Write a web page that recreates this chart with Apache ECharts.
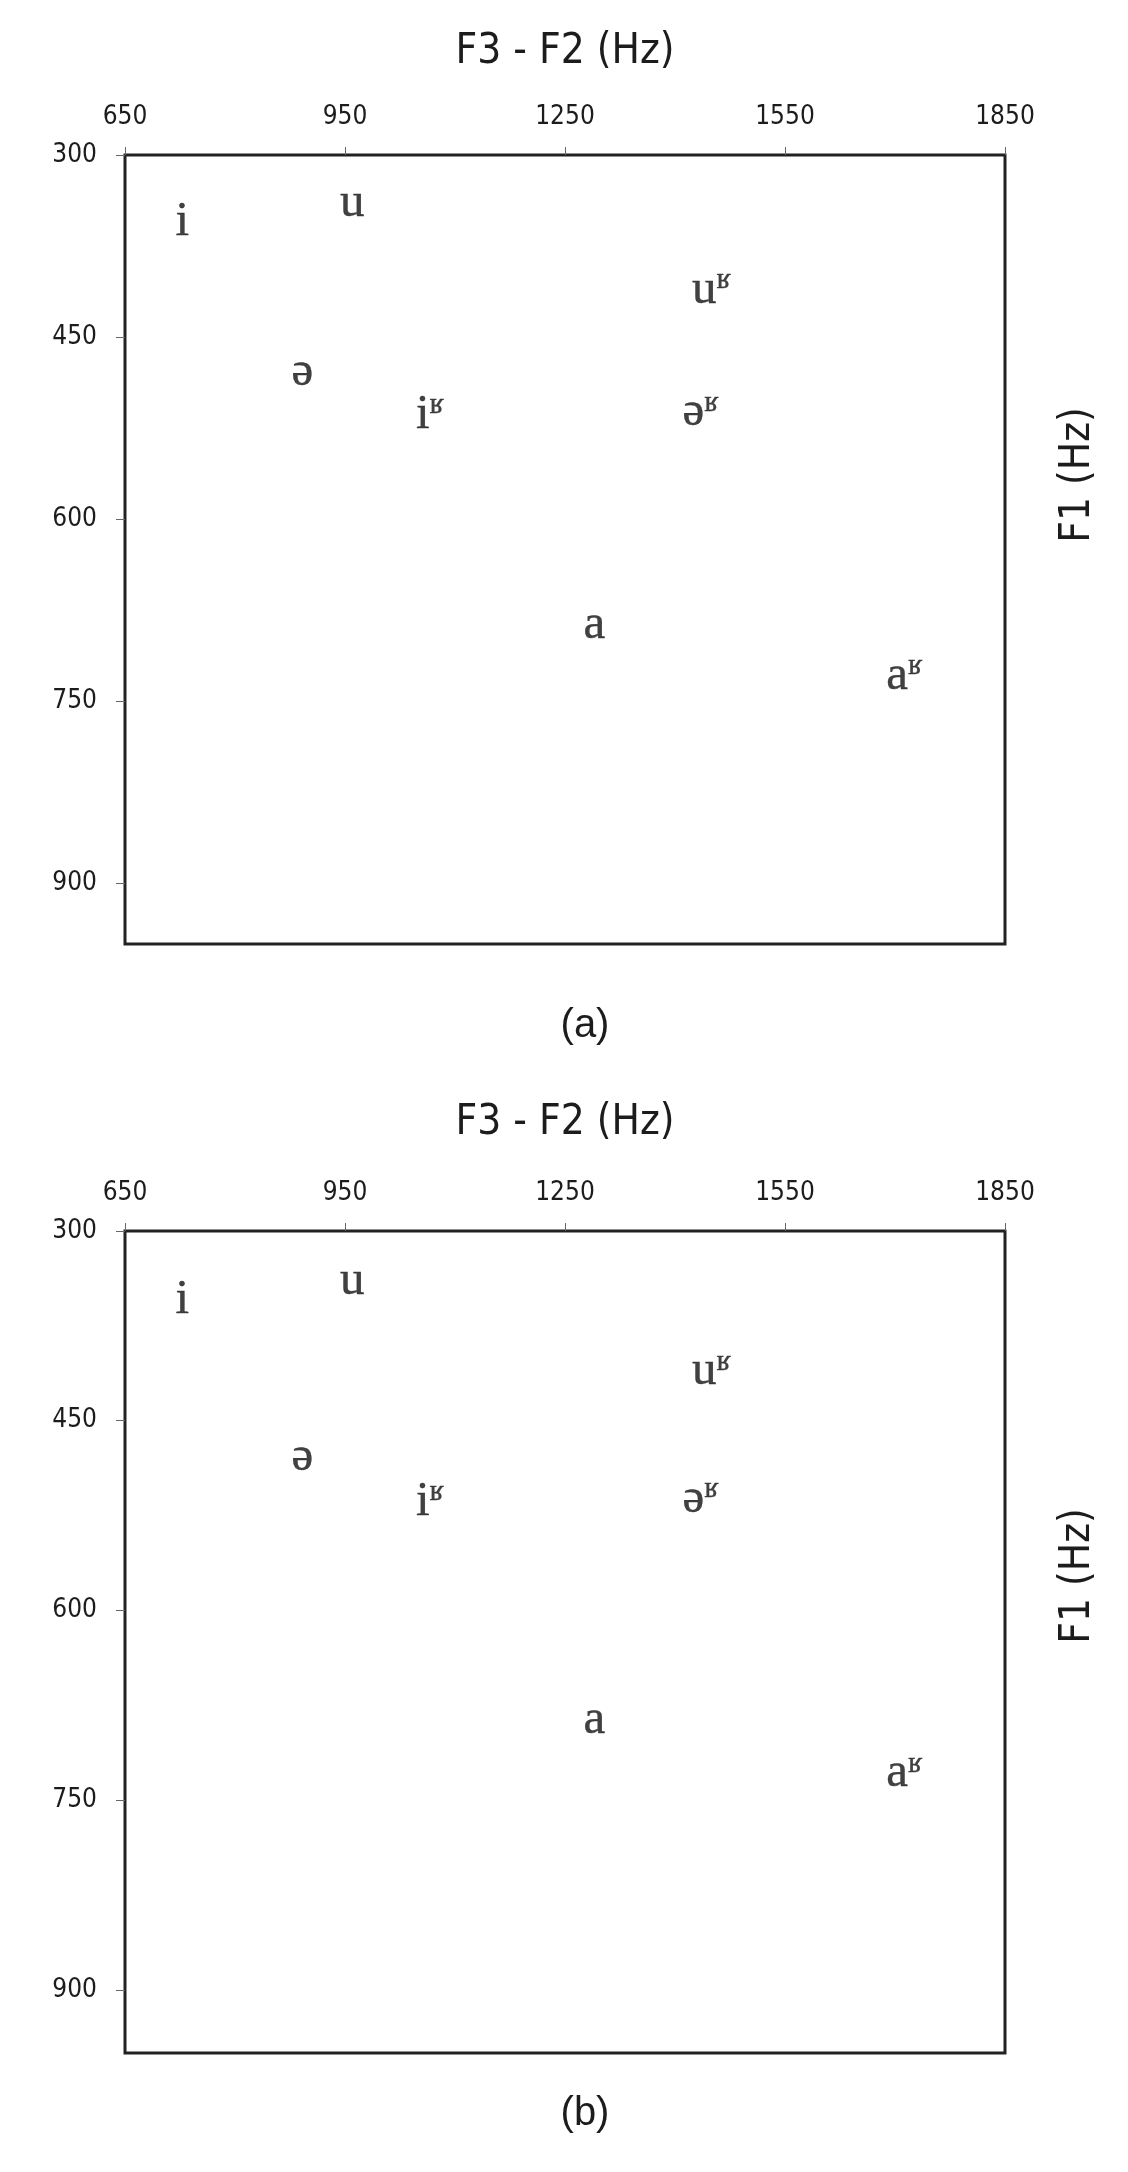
<!DOCTYPE html>
<html>
<head>
<meta charset="utf-8">
<script src="https://cdn.jsdelivr.net/npm/echarts@6/dist/echarts.min.js"></script>
<style>
html,body{margin:0;padding:0;background:#fff;}
#c{width:1128px;height:2172px;}
</style>
</head>
<body>
<div id="c"></div>
<script>
// ---- data ----
const vowelBase = ['i', 'u', 'ə', 'i', 'u', 'ə', 'a', 'a'];
const vowelSup  = ['',  '',  '',  'ʁ', 'ʁ', 'ʁ', '',  'ʁ'];
const f3MinusF2 = [728, 960, 892, 1066, 1450, 1435, 1290, 1713];
const f1Values  = [355, 340, 479, 514, 411, 512, 687, 729];
const xTicks = [650, 950, 1250, 1550, 1850];
const yTicks = [300, 450, 600, 750, 900];
const panelCaptions = ['(a)', '(b)'];
const xAxisTitle = 'F3 - F2 (Hz)';
const yAxisTitle = 'F1 (Hz)';

const textColor = '#1c1c1c';
const sansCond = '"DejaVu Sans Condensed", "DejaVu Sans", sans-serif';
const narrow = '"Liberation Sans Narrow", "Liberation Sans", sans-serif';
const serif = '"Liberation Serif", "DejaVu Serif", serif';

const points = f3MinusF2.map((x, i) => ({ value: [x, f1Values[i]], base: vowelBase[i], sup: vowelSup[i] }));

const grids = [
  { left: 125, top: 155, width: 880, height: 789 },
  { left: 125, top: 1231, width: 880, height: 822 }
];
const titleGap = [103, 108];
const yNameCenter = [475, 1576];
const captionY = [1026, 2114];

const option = {
  animation: false,
  backgroundColor: '#ffffff',
  grid: grids.map(g => Object.assign({ show: true, borderColor: '#222', borderWidth: 3, backgroundColor: 'transparent' }, g)),
  xAxis: grids.map((g, i) => ({
    gridIndex: i,
    type: 'value',
    position: 'top',
    min: 650, max: 1850,
    name: xAxisTitle,
    nameLocation: 'middle',
    nameGap: titleGap[i],
    nameTextStyle: { fontFamily: sansCond, fontSize: 42, color: textColor, verticalAlign: 'middle' },
    axisLine: { show: false },
    axisTick: { show: true, customValues: xTicks, length: 8, inside: false, lineStyle: { color: '#666', width: 1 } },
    axisLabel: { show: true, customValues: xTicks, margin: 25, fontFamily: sansCond, fontSize: 26, color: textColor, formatter: v => String(v) },
    splitLine: { show: false }
  })),
  yAxis: grids.map((g, i) => ({
    gridIndex: i,
    type: 'value',
    inverse: true,
    min: 300, max: 950,
    axisLine: { show: false },
    axisTick: { show: true, customValues: yTicks, length: 9, inside: false, lineStyle: { color: '#666', width: 1 } },
    axisLabel: { show: true, customValues: yTicks, margin: 28, fontFamily: sansCond, fontSize: 26, color: textColor, formatter: v => String(v) },
    splitLine: { show: false }
  })),
  series: grids.map((g, i) => ({
    type: 'scatter',
    xAxisIndex: i,
    yAxisIndex: i,
    symbolSize: 1,
    itemStyle: { color: 'rgba(0,0,0,0)' },
    data: points,
    label: {
      show: true,
      position: 'inside',
      color: '#111',
      formatter: p => p.data.sup ? '{b|' + p.data.base + '}{s|' + p.data.sup + '}' : '{b|' + p.data.base + '}',
      rich: {
        b: { fontFamily: serif, fontSize: 49, lineHeight: 49, color: '#111', textBorderColor: '#111', textBorderWidth: 0.4 },
        s: { fontFamily: serif, fontSize: 30, lineHeight: 30, color: '#111', textBorderColor: '#111', textBorderWidth: 0.3, verticalAlign: 'top' }
      }
    },
    emphasis: { disabled: true }
  })),
  graphic: [
    ...yNameCenter.map(y => ({
      type: 'text', x: 1078, y: y, rotation: Math.PI / 2,
      style: { text: yAxisTitle, fontFamily: sansCond, fontSize: 42, fill: textColor, align: 'center', verticalAlign: 'middle' }
    })),
    ...panelCaptions.map((t, i) => ({
      type: 'text', x: 585, y: captionY[i],
      style: { text: t, fontFamily: narrow, fontSize: 40, fill: textColor, align: 'center', verticalAlign: 'middle' }
    }))
  ]
};

const chart = echarts.init(document.getElementById('c'), null, { renderer: 'canvas' });
chart.setOption(option);
</script>
</body>
</html>
